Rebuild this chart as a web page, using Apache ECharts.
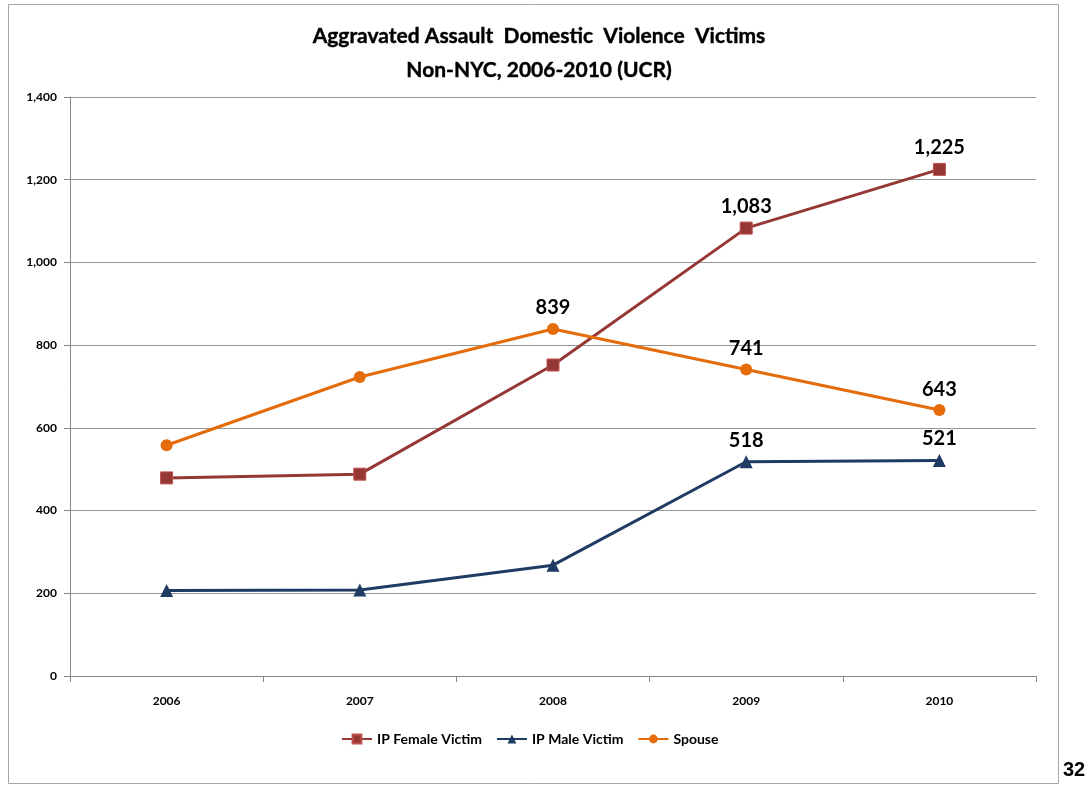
<!DOCTYPE html>
<html><head><meta charset="utf-8">
<script src="https://cdn.jsdelivr.net/npm/echarts@6/dist/echarts.min.js"></script>
<style>html,body{margin:0;padding:0;background:#fff}#c{width:1087px;height:792px}</style>
</head><body><div id="c"></div>
<script>
const categories = ['2006', '2007', '2008', '2009', '2010'];
const femaleValues = [479, 488, 752, 1083, 1225];
const maleValues = [207, 208, 268, 518, 521];
const spouseValues = [558, 723, 839, 741, 643];
const femaleLabeled = [false, false, false, true, true];
const maleLabeled = [false, false, false, true, true];
const spouseLabeled = [false, false, true, true, true];
const yTicks = [0, 200, 400, 600, 800, 1000, 1200, 1400];

const FONT = 'Lato';
const fmt = v => Number(v).toLocaleString('en-US');
function labelFor(flags) {
  return {
    show: true, position: 'top', distance: 5,
    fontFamily: FONT, fontWeight: 'bold', fontSize: 20, color: '#000',
    formatter: p => flags[p.dataIndex] ? fmt(p.value) : ''
  };
}
const chart = echarts.init(document.getElementById('c'), null, {renderer: 'canvas'});
chart.setOption({
  animation: false,
  backgroundColor: '#fff',
  title: {
    text: 'Aggravated Assault  Domestic  Violence  Victims\nNon-NYC, 2006-2010 (UCR)',
    left: 534, top: 14, textAlign: 'center',
    textStyle: {fontFamily: FONT, fontWeight: 'bold', fontSize: 21, lineHeight: 34, color: '#000',
      textBorderColor: '#000', textBorderWidth: 0.4}
  },
  graphic: [
    {type: 'rect', shape: {x: 8.5, y: 4.5, width: 1050, height: 779}, style: {fill: 'none', stroke: '#a6a6a6', lineWidth: 1}, z: -1},
    {type: 'text', left: 1063, top: 760, style: {text: '32', font: 'bold 20px "Liberation Sans"', fill: '#000'}}
  ],
  legend: {
    bottom: 41, left: 336,
    itemWidth: 30, itemHeight: 11, itemGap: 14,
    textStyle: {fontFamily: FONT, fontWeight: 'bold', fontSize: 14, color: '#000'},
    data: ['IP Female Victim', 'IP Male Victim', 'Spouse']
  },
  grid: {left: 70, right: 51, top: 97, bottom: 116, containLabel: false},
  xAxis: {
    type: 'category', data: categories, boundaryGap: true,
    axisLine: {lineStyle: {color: '#868686', width: 1}},
    axisTick: {show: true, length: 6, inside: false, lineStyle: {color: '#868686'}},
    axisLabel: {fontFamily: FONT, fontWeight: 'bold', fontSize: 12, color: '#000', margin: 19}
  },
  yAxis: {
    type: 'value', min: 0, max: 1400, interval: 200,
    axisLine: {show: true, lineStyle: {color: '#868686', width: 1}},
    axisTick: {show: true, length: 6, lineStyle: {color: '#868686'}},
    splitLine: {lineStyle: {color: '#969696', width: 1}},
    axisLabel: {fontFamily: FONT, fontWeight: 'bold', fontSize: 12, color: '#000', margin: 13,
      formatter: v => yTicks.includes(v) ? fmt(v) : ''}
  },
  series: [
    {name: 'IP Female Victim', type: 'line', data: femaleValues, symbol: 'rect', symbolSize: 12,
      lineStyle: {color: '#953735', width: 3}, itemStyle: {color: '#953735', borderColor: '#c0504d', borderWidth: 1},
      label: labelFor(femaleLabeled), z: 3},
    {name: 'IP Male Victim', type: 'line', data: maleValues, symbol: 'triangle', symbolSize: 13,
      lineStyle: {color: '#1f3b63', width: 3}, itemStyle: {color: '#1f3b63'},
      label: labelFor(maleLabeled), z: 3},
    {name: 'Spouse', type: 'line', data: spouseValues, symbol: 'circle', symbolSize: 12,
      lineStyle: {color: '#e46c0a', width: 3}, itemStyle: {color: '#e46c0a'},
      label: labelFor(spouseLabeled), z: 3}
  ]
});
</script></body></html>
